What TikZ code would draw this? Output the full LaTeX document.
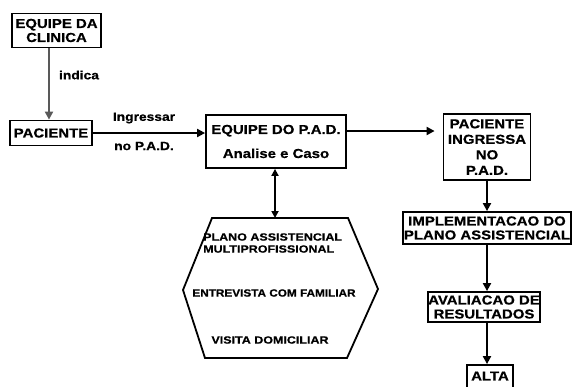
\documentclass[tikz,border=0pt]{standalone}
\usepackage{fontspec}
\setmainfont{Liberation Sans}
\newfontfamily\boxfont{Liberation Sans Bold}[FakeStretch=1.15,FakeBold=0.6]
\newfontfamily\hexfont{Liberation Sans Bold}[FakeStretch=1.19,FakeBold=0.6]
\newfontfamily\narrowhex{Liberation Sans Bold}[FakeStretch=1.12,FakeBold=0.6]
\newfontfamily\lblfont{Liberation Sans Bold}[FakeStretch=1.15,FakeBold=0.6]
\usetikzlibrary{arrows.meta}
\begin{document}
\begin{tikzpicture}[x=1pt,y=-1pt,
  box/.style={draw, line width=1.8pt, inner sep=0pt, align=center,
    font=\boxfont\fontsize{13}{14}\selectfont},
  lbl/.style={inner sep=0pt, font=\lblfont\fontsize{12}{12}\selectfont},
  hx/.style={inner sep=0pt, font=\hexfont\fontsize{10.5}{11}\selectfont},
  arr/.style={line width=1.9pt, -{Triangle[length=8pt,width=8pt]}},
  darr/.style={line width=1.9pt, {Triangle[length=7pt,width=7pt]}-{Triangle[length=7pt,width=7pt]}}]
\useasboundingbox (0,0) rectangle (572,386);
\fill[white] (0,0) rectangle (572,386);

\node[box, minimum width=89pt, minimum height=34pt] (eqc) at (56.5,30.5) {EQUIPE DA\\CLINICA};
\node[box, minimum width=82pt, minimum height=25pt] (pac) at (51,133) {PACIENTE};
\node[box, minimum width=140pt, minimum height=53pt] (eqpad) at (276,141.5) {EQUIPE DO P.A.D.\\[10pt]Analise e Caso};
\node[box, minimum width=87pt, minimum height=66pt, font=\boxfont\fontsize{13}{15.5}\selectfont] (ping) at (487,147) {PACIENTE\\INGRESSA\\NO\\P.A.D.};
\node[box, minimum width=168pt, minimum height=32pt] (impl) at (487,228) {IMPLEMENTACAO DO\\PLANO ASSISTENCIAL};
\node[box, minimum width=108pt, minimum height=30pt] (avl) at (484,307) {AVALIACAO DE\\RESULTADOS};
\node[box, minimum width=46pt, minimum height=27pt] (alta) at (490,378.5) {};
\node[inner sep=0pt, font=\boxfont\fontsize{13}{13}\selectfont] (altat) at (490,376) {ALTA};

% hexagon
\draw[line width=1.8pt, line join=miter] (212,218) -- (348,218) -- (378,289) -- (347,358) -- (205,358) -- (183,290) -- cycle;
\coordinate (hextop) at (275,218);
\node[hx, anchor=west] (h1) at (203,237) {PLANO ASSISTENCIAL};
\node[hx, anchor=west] (h2) at (203,249) {MULTIPROFISSIONAL};
\node[hx, font=\narrowhex\fontsize{10.5}{11}\selectfont] (h3) at (274,293) {ENTREVISTA COM FAMILIAR};
\node[hx] (h4) at (270,340) {VISITA DOMICILIAR};

% labels
\node[lbl] (lind) at (79,75) {indica};
\node[lbl] (ling) at (144,118) {Ingressar};
\node[lbl] (lno) at (144,146) {no P.A.D.};

% arrows
\draw[arr, gray!70!black] (49,0 |- eqc.south) -- (49,0 |- pac.north);
\draw[arr] (pac.east |- 0,133) -- (eqpad.west |- 0,133);
\draw[arr] (eqpad.east |- 0,131) -- ([xshift=-8pt]ping.west |- 0,131);
\draw[darr] (275,0 |- eqpad.south) -- (hextop);
\draw[arr] (ping.south) -- (ping.south |- impl.north);
\draw[arr] (ping.south |- impl.south) -- (ping.south |- avl.north);
\draw[arr] (ping.south |- avl.south) -- (ping.south |- alta.north);
\end{tikzpicture}
\end{document}
